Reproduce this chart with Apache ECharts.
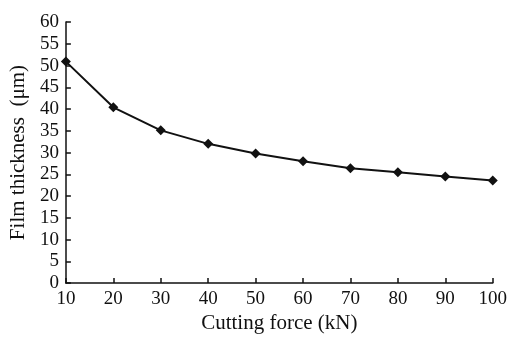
<!DOCTYPE html>
<html>
<head>
<meta charset="utf-8">
<script src="https://cdn.jsdelivr.net/npm/echarts@6/dist/echarts.min.js"></script>
<style>
html,body{margin:0;padding:0;background:#fff;}
#chart{width:510px;height:339px;}
</style>
</head>
<body>
<div id="chart"></div>
<script>
// 切削力与膜厚
var forces = [10, 20, 30, 40, 50, 60, 70, 80, 90, 100];
var thickness = [50.9, 40.4, 35.1, 32.0, 29.8, 28.0, 26.4, 25.5, 24.5, 23.6];

var points = [];
for (var i = 0; i < forces.length; i++) {
	points.push([forces[i], thickness[i]]);
}

var font = '"Liberation Serif", "Times New Roman", serif';
var myChart = echarts.init(document.getElementById('chart'));
var option = {
	backgroundColor: '#fff',
	animation: false,
	grid: { left: 64, right: 17, top: 22, bottom: 53 },
	xAxis: {
		type: 'value',
		min: 10, max: 100, interval: 10,
		name: 'Cutting force (kN)',
		nameLocation: 'middle',
		nameGap: 24,
		nameTextStyle: { fontFamily: font, fontSize: 21, color: '#111' },
		axisLine: { lineStyle: { color: '#111', width: 1.5 } },
		axisTick: { inside: true, length: 5, lineStyle: { color: '#111', width: 1.5 } },
		axisLabel: { fontFamily: font, fontSize: 19, color: '#111', margin: 6 },
		splitLine: { show: false }
	},
	yAxis: {
		type: 'value',
		min: 0, max: 60, interval: 5,
		name: 'Film thickness  (μm)',
		nameLocation: 'middle',
		nameGap: 35,
		nameTextStyle: { fontFamily: font, fontSize: 21, color: '#111' },
		axisLine: { show: true, lineStyle: { color: '#111', width: 1.5 } },
		axisTick: { show: true, inside: true, length: 5, lineStyle: { color: '#111', width: 1.5 } },
		axisLabel: { fontFamily: font, fontSize: 19, color: '#111', margin: 7 },
		splitLine: { show: false }
	},
	series: [{
		type: 'line',
		data: points,
		symbol: 'diamond',
		symbolSize: 10,
		itemStyle: { color: '#111' },
		lineStyle: { color: '#111', width: 2 }
	}]
};

myChart.setOption(option);
</script>
</body>
</html>
